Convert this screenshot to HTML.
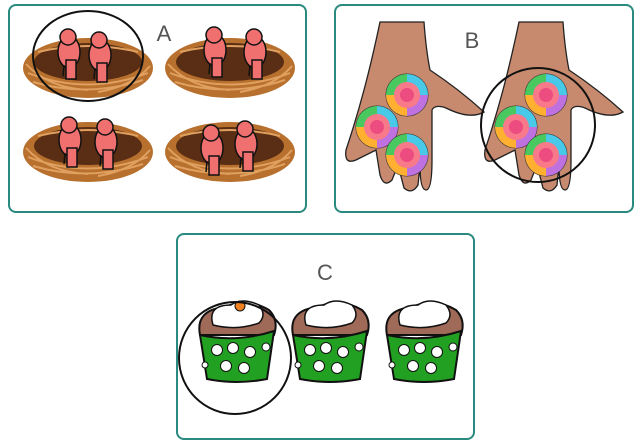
<!DOCTYPE html>
<html><head><meta charset="utf-8"><style>
html,body{margin:0;padding:0;background:#fff;width:640px;height:442px;overflow:hidden}
</style></head><body>
<svg width="640" height="442" viewBox="0 0 640 442" xmlns="http://www.w3.org/2000/svg">
<defs>
<g id="nest">
<ellipse cx="0" cy="0" rx="65" ry="30" fill="#b8702e"/>
<ellipse cx="0" cy="-6" rx="54" ry="19" fill="#5a2e14"/>
<path d="M-60 5 Q0 28 60 5 M-55 14 Q0 30 55 12 M-62 -4 Q-40 20 0 22 M10 24 Q45 18 62 -2 M-50 -16 Q0 -28 50 -16" stroke="#e0a060" stroke-width="2" fill="none"/>
</g>
<g id="bird" stroke="#111" stroke-width="1.5" fill="#f07070">
<ellipse cx="0" cy="0" rx="11" ry="16"/>
<circle cx="-1" cy="-15" r="8"/>
<rect x="-3" y="8" width="10" height="19"/>
<line x1="-5" y1="13" x2="-6" y2="24"/>
</g>
<g id="lolli">
<circle r="21" fill="#f04a6a" stroke="#333" stroke-width="1"/>
<path d="M0 -21 A21 21 0 0 1 21 0 L0 0Z" fill="#49c9e8"/>
<path d="M21 0 A21 21 0 0 1 0 21 L0 0Z" fill="#c071e0"/>
<path d="M0 21 A21 21 0 0 1 -21 0 L0 0Z" fill="#ffb030"/>
<path d="M-21 0 A21 21 0 0 1 0 -21 L0 0Z" fill="#4ac860"/>
<circle r="13" fill="#f87a8a"/><circle r="7" fill="#ec4c80"/>
</g>
<g id="hand" fill="#c88a6e" stroke="#222" stroke-width="1.3">
<path d="M380 22 L424 22 Q426 50 430 70 Q460 90 484 112 Q470 120 446 108 Q435 104 432 110 L432 160 Q432 190 426 190 Q420 190 420 165 L418 185 Q412 195 404 188 L398 165 L392 180 Q384 188 380 175 L376 150 L356 160 Q344 165 346 150 Q356 120 364 90 Q372 60 380 22Z"/>
</g>
<g id="cup">
<path d="M-37 -10 Q-42 -35 -12 -38 Q10 -48 32 -35 Q42 -25 37 -10Z" fill="#a06a58" stroke="#111" stroke-width="2"/>
<path d="M-24 -20 Q-30 -40 -6 -40 Q5 -48 22 -40 Q30 -30 22 -22 Q0 -14 -24 -20Z" fill="#fff" stroke="#111" stroke-width="1.5"/>
<path d="M-37 -10 Q0 -2 37 -14 L30 34 Q0 40 -30 34Z" fill="#22a022" stroke="#111" stroke-width="2"/>
<g fill="#fff" stroke="#111" stroke-width="1"><circle cx="-20" cy="5" r="5.5"/><circle cx="-4" cy="3" r="5.5"/><circle cx="13" cy="7" r="5.5"/><circle cx="-11" cy="21" r="5.5"/><circle cx="7" cy="23" r="5.5"/><circle cx="29" cy="2" r="4"/><circle cx="-32" cy="20" r="3"/></g>
</g>
</defs>
<rect x="9" y="5" width="297" height="207" rx="7" fill="#fff" stroke="#2a8a80" stroke-width="2"/>
<rect x="335" y="5" width="298" height="207" rx="7" fill="#fff" stroke="#2a8a80" stroke-width="2"/>
<rect x="177" y="234" width="297" height="205" rx="7" fill="#fff" stroke="#2a8a80" stroke-width="2"/>
<g font-family="Liberation Sans, sans-serif" font-size="22" fill="#555" text-anchor="middle">
<text x="164" y="41">A</text><text x="472" y="48">B</text><text x="325" y="280">C</text></g>
<use href="#nest" x="88" y="68"/><use href="#nest" x="230" y="68"/>
<use href="#nest" x="88" y="152"/><use href="#nest" x="230" y="152"/>
<use href="#bird" x="69" y="52"/><use href="#bird" x="100" y="55"/>
<use href="#bird" x="215" y="50"/><use href="#bird" x="255" y="52"/>
<use href="#bird" x="70" y="140"/><use href="#bird" x="106" y="142"/>
<use href="#bird" x="212" y="148"/><use href="#bird" x="246" y="144"/>
<ellipse cx="88" cy="56" rx="55" ry="45" fill="none" stroke="#111" stroke-width="2"/>
<use href="#hand"/><use href="#hand" x="139"/>
<use href="#lolli" x="407" y="95"/><use href="#lolli" x="377" y="127"/><use href="#lolli" x="407" y="155"/>
<use href="#lolli" x="546" y="95"/><use href="#lolli" x="516" y="127"/><use href="#lolli" x="546" y="155"/>
<circle cx="538" cy="125" r="57" fill="none" stroke="#111" stroke-width="2"/>
<use href="#cup" x="237" y="345"/><use href="#cup" x="330" y="345"/><use href="#cup" x="424" y="345"/>
<circle cx="240" cy="306" r="5" fill="#f08020" stroke="#111"/>
<circle cx="235" cy="358" r="56" fill="none" stroke="#111" stroke-width="2"/>
</svg>
</body></html>
